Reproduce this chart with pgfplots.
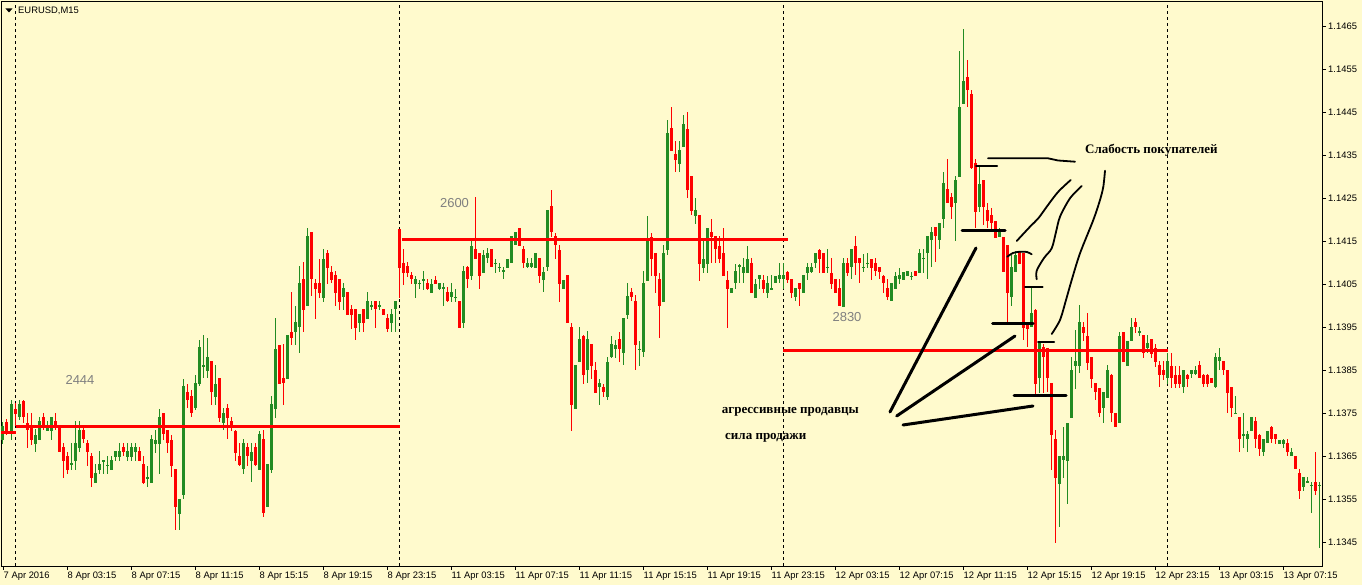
\documentclass[border=0pt]{standalone}
\usepackage{pgfplots}
\pgfplotsset{compat=1.18}
\usepackage{pgfplotstable}
\usepackage{fontspec}
\setmainfont{Liberation Sans}
\newfontfamily\annot{Liberation Serif}
\definecolor{bg}{RGB}{255,250,205}
\definecolor{bull}{RGB}{34,139,34}
\definecolor{bear}{RGB}{255,0,0}
\definecolor{note}{RGB}{128,128,128}

% EURUSD M15, one row per bar: index, open, high, low, close
\pgfplotstableread{
i o h l c
0 1.13688 1.13732 1.13681 1.13720
1 1.13729 1.13737 1.13699 1.13704
2 1.13706 1.13781 1.13688 1.13772
3 1.13762 1.13774 1.13722 1.13749
4 1.13742 1.13781 1.13734 1.13772
5 1.13781 1.13781 1.13729 1.13742
6 1.13729 1.13751 1.13669 1.13711
7 1.13722 1.13751 1.13676 1.13688
8 1.13681 1.13713 1.13660 1.13702
9 1.13688 1.13742 1.13688 1.13732
10 1.13742 1.13751 1.13711 1.13718
11 1.13709 1.13734 1.13709 1.13718
12 1.13709 1.13742 1.13688 1.13742
13 1.13732 1.13751 1.13711 1.13718
14 1.13718 1.13718 1.13660 1.13660
15 1.13672 1.13681 1.13599 1.13639
16 1.13651 1.13660 1.13609 1.13618
17 1.13632 1.13681 1.13618 1.13634
18 1.13639 1.13732 1.13618 1.13681
19 1.13669 1.13732 1.13660 1.13711
20 1.13711 1.13718 1.13681 1.13690
21 1.13681 1.13690 1.13629 1.13660
22 1.13651 1.13660 1.13579 1.13599
23 1.13588 1.13632 1.13588 1.13611
24 1.13618 1.13662 1.13609 1.13632
25 1.13639 1.13643 1.13609 1.13641
26 1.13629 1.13651 1.13609 1.13632
27 1.13618 1.13651 1.13618 1.13641
28 1.13649 1.13662 1.13639 1.13662
29 1.13649 1.13681 1.13639 1.13662
30 1.13672 1.13681 1.13651 1.13660
31 1.13649 1.13681 1.13639 1.13662
32 1.13649 1.13681 1.13639 1.13672
33 1.13660 1.13681 1.13639 1.13672
34 1.13662 1.13672 1.13639 1.13639
35 1.13632 1.13651 1.13588 1.13588
36 1.13599 1.13629 1.13579 1.13602
37 1.13588 1.13699 1.13588 1.13690
38 1.13681 1.13711 1.13658 1.13690
39 1.13681 1.13762 1.13609 1.13742
40 1.13751 1.13751 1.13688 1.13702
41 1.13711 1.13711 1.13660 1.13681
42 1.13690 1.13699 1.13602 1.13629
43 1.13620 1.13620 1.13479 1.13532
44 1.13518 1.13551 1.13479 1.13551
45 1.13560 1.13832 1.13551 1.13813
46 1.13799 1.13818 1.13762 1.13781
47 1.13790 1.13804 1.13742 1.13751
48 1.13762 1.13839 1.13758 1.13820
49 1.13820 1.13920 1.13813 1.13904
50 1.13860 1.13932 1.13832 1.13862
51 1.13849 1.13925 1.13832 1.13881
52 1.13872 1.13872 1.13769 1.13799
53 1.13788 1.13862 1.13769 1.13820
54 1.13832 1.13832 1.13729 1.13739
55 1.13729 1.13762 1.13711 1.13751
56 1.13762 1.13772 1.13690 1.13739
57 1.13732 1.13742 1.13711 1.13720
58 1.13711 1.13711 1.13639 1.13660
59 1.13651 1.13681 1.13629 1.13629
60 1.13620 1.13692 1.13611 1.13681
61 1.13672 1.13681 1.13629 1.13651
62 1.13639 1.13681 1.13590 1.13660
63 1.13672 1.13681 1.13629 1.13629
64 1.13620 1.13711 1.13620 1.13702
65 1.13690 1.13711 1.13509 1.13518
66 1.13532 1.13632 1.13532 1.13632
67 1.13620 1.13790 1.13611 1.13772
68 1.13762 1.13972 1.13739 1.13902
69 1.13911 1.13911 1.13820 1.13820
70 1.13832 1.13911 1.13769 1.13820
71 1.13830 1.13932 1.13830 1.13932
72 1.13941 1.14032 1.13909 1.13927
73 1.13939 1.14002 1.13909 1.13962
74 1.13951 1.14092 1.13890 1.14053
75 1.14062 1.14101 1.13939 1.13992
76 1.13999 1.14181 1.13999 1.14162
77 1.14171 1.14171 1.14022 1.14062
78 1.14053 1.14062 1.13969 1.14039
79 1.14053 1.14111 1.14020 1.14030
80 1.14020 1.14132 1.14009 1.14111
81 1.14123 1.14132 1.14053 1.14090
82 1.14081 1.14092 1.14053 1.14062
83 1.14071 1.14081 1.13999 1.14030
84 1.14062 1.14062 1.13990 1.14009
85 1.14020 1.14053 1.13990 1.14041
86 1.14032 1.14032 1.13978 1.13978
87 1.13992 1.14002 1.13948 1.13978
88 1.13992 1.13992 1.13920 1.13948
89 1.13960 1.13981 1.13939 1.13981
90 1.13992 1.13992 1.13939 1.13960
91 1.13969 1.14032 1.13969 1.14011
92 1.13999 1.14011 1.13990 1.14002
93 1.14011 1.14011 1.13948 1.13992
94 1.13999 1.14011 1.13990 1.14002
95 1.13992 1.13992 1.13978 1.13978
96 1.13972 1.13981 1.13939 1.13948
97 1.13960 1.13992 1.13939 1.13981
98 1.13992 1.14011 1.13939 1.14011
99 1.14181 1.14181 1.14020 1.14090
100 1.14101 1.14132 1.14048 1.14078
101 1.14094 1.14101 1.14067 1.14078
102 1.14071 1.14078 1.14051 1.14062
103 1.14051 1.14071 1.14020 1.14062
104 1.14051 1.14062 1.14041 1.14053
105 1.14057 1.14081 1.14037 1.14062
106 1.14053 1.14062 1.14037 1.14041
107 1.14032 1.14062 1.14030 1.14053
108 1.14062 1.14071 1.14053 1.14053
109 1.14041 1.14053 1.14037 1.14053
110 1.14041 1.14053 1.13999 1.14044
111 1.14032 1.14044 1.14009 1.14011
112 1.14020 1.14053 1.14009 1.14032
113 1.14020 1.14041 1.14009 1.14022
114 1.14011 1.14011 1.13948 1.13948
115 1.13960 1.14092 1.13948 1.14081
116 1.14092 1.14092 1.14041 1.14062
117 1.14071 1.14151 1.14062 1.14141
118 1.14132 1.14253 1.14109 1.14109
119 1.14123 1.14123 1.14041 1.14069
120 1.14078 1.14130 1.14078 1.14120
121 1.14111 1.14134 1.14099 1.14123
122 1.14132 1.14132 1.14090 1.14090
123 1.14099 1.14111 1.14078 1.14101
124 1.14090 1.14099 1.14078 1.14092
125 1.14081 1.14092 1.14062 1.14083
126 1.14090 1.14111 1.14090 1.14111
127 1.14099 1.14162 1.14099 1.14162
128 1.14141 1.14171 1.14141 1.14171
129 1.14181 1.14181 1.14141 1.14141
130 1.14132 1.14141 1.14090 1.14101
131 1.14090 1.14113 1.14090 1.14101
132 1.14090 1.14113 1.14090 1.14101
133 1.14090 1.14123 1.14090 1.14123
134 1.14111 1.14111 1.14053 1.14069
135 1.14062 1.14090 1.14032 1.14081
136 1.14090 1.14223 1.14081 1.14223
137 1.14232 1.14271 1.14162 1.14171
138 1.14162 1.14171 1.14109 1.14141
139 1.14132 1.14141 1.14009 1.14053
140 1.14041 1.14062 1.14041 1.14062
141 1.14071 1.14071 1.13960 1.13960
142 1.13951 1.13962 1.13711 1.13769
143 1.13760 1.13862 1.13760 1.13862
144 1.13869 1.13951 1.13869 1.13923
145 1.13932 1.13932 1.13820 1.13841
146 1.13851 1.13941 1.13820 1.13923
147 1.13911 1.13911 1.13830 1.13860
148 1.13851 1.13869 1.13799 1.13799
149 1.13811 1.13830 1.13769 1.13820
150 1.13811 1.13820 1.13788 1.13799
151 1.13788 1.13881 1.13781 1.13869
152 1.13881 1.13932 1.13881 1.13911
153 1.13902 1.13923 1.13881 1.13911
154 1.13923 1.13941 1.13869 1.13902
155 1.13890 1.13972 1.13862 1.13972
156 1.13978 1.14053 1.13969 1.14022
157 1.14032 1.14041 1.14011 1.14020
158 1.14011 1.14025 1.13851 1.13909
159 1.13899 1.13918 1.13860 1.13902
160 1.13892 1.14081 1.13881 1.14053
161 1.14060 1.14211 1.14060 1.14153
162 1.14162 1.14171 1.14069 1.14109
163 1.14123 1.14123 1.14030 1.14069
164 1.14062 1.14078 1.13927 1.13999
165 1.14009 1.14141 1.14009 1.14123
166 1.14130 1.14432 1.14120 1.14402
167 1.14413 1.14462 1.14360 1.14360
168 1.14353 1.14383 1.14311 1.14339
169 1.14330 1.14383 1.14311 1.14362
170 1.14369 1.14444 1.14369 1.14423
171 1.14413 1.14451 1.14251 1.14269
172 1.14302 1.14302 1.14211 1.14220
173 1.14209 1.14253 1.14192 1.14223
174 1.14211 1.14211 1.14060 1.14099
175 1.14090 1.14153 1.14078 1.14111
176 1.14099 1.14181 1.14078 1.14181
177 1.14171 1.14202 1.14099 1.14160
178 1.14162 1.14162 1.14099 1.14132
179 1.14141 1.14162 1.14099 1.14109
180 1.14123 1.14181 1.14069 1.14069
181 1.14062 1.14081 1.13948 1.14041
182 1.14030 1.14041 1.14030 1.14041
183 1.14053 1.14099 1.14041 1.14081
184 1.14092 1.14099 1.14053 1.14094
185 1.14078 1.14111 1.14053 1.14092
186 1.14078 1.14141 1.14078 1.14111
187 1.14101 1.14111 1.14030 1.14030
188 1.14020 1.14064 1.14020 1.14053
189 1.14062 1.14071 1.14041 1.14071
190 1.14062 1.14071 1.14030 1.14041
191 1.14030 1.14071 1.14020 1.14053
192 1.14039 1.14071 1.14039 1.14041
193 1.14053 1.14071 1.14053 1.14071
194 1.14062 1.14101 1.14053 1.14071
195 1.14062 1.14101 1.14041 1.14071
196 1.14081 1.14081 1.14053 1.14062
197 1.14062 1.14062 1.14020 1.14030
198 1.14020 1.14041 1.14011 1.14041
199 1.14053 1.14053 1.13999 1.14041
200 1.14030 1.14071 1.14030 1.14071
201 1.14078 1.14101 1.14060 1.14092
202 1.14078 1.14101 1.14078 1.14090
203 1.14101 1.14123 1.14090 1.14123
204 1.14132 1.14132 1.14078 1.14111
205 1.14123 1.14123 1.14078 1.14078
206 1.14090 1.14132 1.14078 1.14092
207 1.14078 1.14111 1.14041 1.14053
208 1.14062 1.14062 1.14030 1.14030
209 1.14041 1.14062 1.13999 1.13999
210 1.13999 1.14111 1.13999 1.14101
211 1.14101 1.14111 1.14071 1.14078
212 1.14090 1.14132 1.14062 1.14132
213 1.14141 1.14162 1.14071 1.14101
214 1.14111 1.14111 1.14053 1.14101
215 1.14090 1.14123 1.14081 1.14092
216 1.14099 1.14123 1.14090 1.14101
217 1.14111 1.14111 1.14062 1.14090
218 1.14101 1.14111 1.14071 1.14081
219 1.14090 1.14090 1.14062 1.14078
220 1.14071 1.14071 1.14030 1.14053
221 1.14041 1.14062 1.14013 1.14020
222 1.14013 1.14053 1.14013 1.14053
223 1.14041 1.14078 1.14041 1.14071
224 1.14062 1.14090 1.14053 1.14071
225 1.14062 1.14081 1.14062 1.14081
226 1.14071 1.14081 1.14071 1.14081
227 1.14069 1.14081 1.14062 1.14071
228 1.14081 1.14081 1.14071 1.14071
229 1.14078 1.14132 1.14078 1.14123
230 1.14109 1.14132 1.14078 1.14111
231 1.14123 1.14162 1.14062 1.14162
232 1.14153 1.14183 1.14090 1.14171
233 1.14183 1.14183 1.14101 1.14162
234 1.14153 1.14192 1.14132 1.14192
235 1.14202 1.14313 1.14181 1.14285
236 1.14271 1.14341 1.14239 1.14239
237 1.14253 1.14262 1.14202 1.14230
238 1.14239 1.14302 1.14151 1.14292
239 1.14299 1.14592 1.14299 1.14462
240 1.14471 1.14644 1.14471 1.14523
241 1.14532 1.14571 1.14462 1.14502
242 1.14492 1.14502 1.14320 1.14320
243 1.14332 1.14341 1.14181 1.14220
244 1.14230 1.14323 1.14220 1.14283
245 1.14292 1.14292 1.14188 1.14230
246 1.14223 1.14241 1.14181 1.14199
247 1.14211 1.14227 1.14176 1.14192
248 1.14199 1.14199 1.14160 1.14160
249 1.14160 1.14181 1.14160 1.14178
250 1.14160 1.14160 1.14078 1.14078
251 1.14141 1.14141 1.13960 1.14030
252 1.14020 1.14118 1.13999 1.14090
253 1.14078 1.14127 1.14078 1.14118
254 1.14125 1.14127 1.14097 1.14099
255 1.14123 1.14123 1.13920 1.13948
256 1.13962 1.13962 1.13904 1.13948
257 1.13951 1.14044 1.13951 1.13983
258 1.13992 1.13992 1.13792 1.13820
259 1.13832 1.13913 1.13799 1.13913
260 1.13904 1.13913 1.13799 1.13881
261 1.13902 1.13902 1.13799 1.13832
262 1.13820 1.13820 1.13618 1.13699
263 1.13690 1.13711 1.13448 1.13599
264 1.13588 1.13651 1.13486 1.13651
265 1.13641 1.13718 1.13599 1.13651
266 1.13639 1.13729 1.13541 1.13729
267 1.13739 1.13881 1.13739 1.13851
268 1.13860 1.13944 1.13808 1.13872
269 1.13860 1.14002 1.13844 1.13962
270 1.13951 1.13962 1.13920 1.13937
271 1.13932 1.13983 1.13851 1.13869
272 1.13881 1.13881 1.13808 1.13830
273 1.13820 1.13820 1.13781 1.13799
274 1.13808 1.13808 1.13742 1.13751
275 1.13762 1.13799 1.13729 1.13799
276 1.13788 1.13862 1.13788 1.13851
277 1.13841 1.13841 1.13729 1.13751
278 1.13751 1.13751 1.13718 1.13718
279 1.13729 1.13941 1.13729 1.13932
280 1.13941 1.13941 1.13869 1.13869
281 1.13860 1.13920 1.13860 1.13920
282 1.13920 1.13972 1.13920 1.13951
283 1.13962 1.13972 1.13939 1.13951
284 1.13939 1.13951 1.13930 1.13941
285 1.13932 1.13932 1.13881 1.13890
286 1.13902 1.13932 1.13890 1.13913
287 1.13923 1.13923 1.13881 1.13890
288 1.13902 1.13913 1.13860 1.13869
289 1.13862 1.13872 1.13811 1.13839
290 1.13851 1.13872 1.13827 1.13839
291 1.13832 1.13892 1.13820 1.13872
292 1.13860 1.13892 1.13811 1.13832
293 1.13841 1.13862 1.13811 1.13820
294 1.13841 1.13862 1.13811 1.13820
295 1.13811 1.13851 1.13799 1.13851
296 1.13841 1.13841 1.13811 1.13832
297 1.13841 1.13851 1.13832 1.13851
298 1.13841 1.13862 1.13841 1.13851
299 1.13862 1.13872 1.13832 1.13832
300 1.13841 1.13841 1.13811 1.13820
301 1.13841 1.13841 1.13811 1.13820
302 1.13832 1.13832 1.13820 1.13820
303 1.13811 1.13892 1.13811 1.13881
304 1.13872 1.13902 1.13851 1.13881
305 1.13872 1.13872 1.13839 1.13851
306 1.13851 1.13851 1.13751 1.13799
307 1.13811 1.13811 1.13742 1.13762
308 1.13749 1.13790 1.13749 1.13751
309 1.13742 1.13742 1.13660 1.13690
310 1.13699 1.13751 1.13669 1.13702
311 1.13690 1.13709 1.13660 1.13702
312 1.13709 1.13742 1.13709 1.13742
313 1.13732 1.13742 1.13669 1.13690
314 1.13702 1.13702 1.13651 1.13669
315 1.13660 1.13690 1.13651 1.13690
316 1.13681 1.13709 1.13681 1.13709
317 1.13720 1.13720 1.13681 1.13690
318 1.13702 1.13702 1.13681 1.13690
319 1.13681 1.13690 1.13681 1.13690
320 1.13681 1.13690 1.13669 1.13690
321 1.13681 1.13690 1.13651 1.13660
322 1.13651 1.13669 1.13651 1.13660
323 1.13651 1.13651 1.13620 1.13620
324 1.13611 1.13620 1.13551 1.13569
325 1.13579 1.13602 1.13569 1.13602
326 1.13590 1.13602 1.13588 1.13592
327 1.13581 1.13590 1.13520 1.13583
328 1.13590 1.13660 1.13560 1.13569
329 1.13581 1.13590 1.13437 1.13583
}\candles

\begin{document}
\begin{tikzpicture}[x=1pt,y=1pt]
\fill[bg] (-1,-19) rectangle (1361,566);
\begin{axis}[
  at={(0,0)}, anchor=south west, scale only axis,
  width=1321pt, height=565pt,
  xmin=-0.5, xmax=329.75, ymin=1.133947, ymax=1.147087,
  axis line style={black, line width=0.8pt},
  tick align=outside, major tick length=4pt,
  tick style={black, line width=0.8pt},
  xtick pos=left, ytick pos=right, yticklabel pos=right,
  xtick={0,16,...,320},
  xticklabels={7 Apr 2016, 8 Apr 03:15, 8 Apr 07:15, 8 Apr 11:15, 8 Apr 15:15, 8 Apr 19:15, 8 Apr 23:15, 11 Apr 03:15, 11 Apr 07:15, 11 Apr 11:15, 11 Apr 15:15, 11 Apr 19:15, 11 Apr 23:15, 12 Apr 03:15, 12 Apr 07:15, 12 Apr 11:15, 12 Apr 15:15, 12 Apr 19:15, 12 Apr 23:15, 13 Apr 03:15, 13 Apr 07:15},
  ytick={1.1345,1.1355,1.1365,1.1375,1.1385,1.1395,1.1405,1.1415,1.1425,1.1435,1.1445,1.1455,1.1465},
  yticklabels={1.1345,1.1355,1.1365,1.1375,1.1385,1.1395,1.1405,1.1415,1.1425,1.1435,1.1445,1.1455,1.1465},
  tick label style={font=\fontsize{9.4}{10}\selectfont},
  xticklabel style={anchor=north west, inner sep=0pt, xshift=0.5pt, yshift=-2pt},
  yticklabel style={anchor=west, inner sep=0pt, xshift=2pt},
  extra x ticks={3,99,195,291}, extra x tick labels={},
  extra x tick style={grid=major, major tick length=0pt,
    major grid style={black, line width=0.8pt, dash pattern=on 3pt off 3pt}},
]
% wicks
\addplot[draw=none, mark=none, forget plot, error bars/.cd, y dir=both, y explicit, error mark=none,
  error bar style={draw=bull, line width=1pt}]
  table[x=i, y expr={\thisrow{c}>=\thisrow{o} ? (\thisrow{h}+\thisrow{l})/2 : nan},
        y error expr={(\thisrow{h}-\thisrow{l})/2}] {\candles};
\addplot[draw=none, mark=none, forget plot, error bars/.cd, y dir=both, y explicit, error mark=none,
  error bar style={draw=bear, line width=1pt}]
  table[x=i, y expr={\thisrow{c}<\thisrow{o} ? (\thisrow{h}+\thisrow{l})/2 : nan},
        y error expr={(\thisrow{h}-\thisrow{l})/2}] {\candles};
% bodies
\addplot[draw=none, mark=none, forget plot, error bars/.cd, y dir=both, y explicit, error mark=none,
  error bar style={draw=bull, line width=3pt}]
  table[x=i, y expr={\thisrow{c}>=\thisrow{o} ? (\thisrow{o}+\thisrow{c})/2 : nan},
        y error expr={max(abs(\thisrow{c}-\thisrow{o})/2,0.000012)}] {\candles};
\addplot[draw=none, mark=none, forget plot, error bars/.cd, y dir=both, y explicit, error mark=none,
  error bar style={draw=bear, line width=3pt}]
  table[x=i, y expr={\thisrow{c}<\thisrow{o} ? (\thisrow{o}+\thisrow{c})/2 : nan},
        y error expr={max(abs(\thisrow{c}-\thisrow{o})/2,0.000012)}] {\candles};
% daily levels drawn on the chart
\draw[bear, line width=3pt] (axis cs:-0.5,1.13706) -- (axis cs:3.25,1.13706);
\draw[bear, line width=3pt] (axis cs:3.25,1.13718) -- (axis cs:99.25,1.13718);
\draw[bear, line width=3pt] (axis cs:99.75,1.14153) -- (axis cs:196.25,1.14153);
\draw[bear, line width=3pt] (axis cs:195,1.13895) -- (axis cs:291.25,1.13895);
\end{axis}

% hand-drawn notes, in screen pixels (y down)
\begin{scope}[shift={(-1,566)}, yscale=-1]
\fill[black] (5.5,8.5) -- (12.5,8.5) -- (9,12.5) -- cycle;
\node[anchor=west, inner sep=0pt, font=\fontsize{9.4}{10}\selectfont] at (18,11) {EURUSD,M15};
\node[note, font=\fontsize{13}{14}\selectfont] at (80,380) {2444};
\node[note, font=\fontsize{13}{14}\selectfont] at (454.5,203) {2600};
\node[note, font=\fontsize{13}{14}\selectfont] at (847,317.5) {2830};
\node[anchor=base west, inner sep=0pt, font=\annot\bfseries\fontsize{13}{14}\selectfont] at (1085,153.5) {Слабость покупателей};
\node[anchor=base west, inner sep=0pt, font=\annot\bfseries\fontsize{13}{14}\selectfont] at (721.7,414) {агрессивные продавцы};
\node[anchor=base west, inner sep=0pt, font=\annot\bfseries\fontsize{13}{14}\selectfont] at (725,440) {сила продажи};
\begin{scope}[line cap=round, line join=round]
\draw[line width=3pt] (890,412) -- (976,248);
\draw[line width=3pt] (896.7,416) -- (1015,336);
\draw[line width=3pt] (903,425) -- (1033,406);
\draw[line width=3pt] (962,230.7) -- (1005,230.7);
\draw[line width=3pt] (992.7,324) -- (1033,324);
\draw[line width=3pt] (1014,396) -- (1066,396);
\draw[line width=2pt] (976,165.7) -- (997,165.7);
\draw[line width=2pt] (1025,286.7) -- (1042.7,286.7);
\draw[line width=2pt] (1038,342.3) -- (1054,342.3);
\draw[line width=1.8pt] (988,158.3) -- (1048,158.3) -- (1058,160.5) -- (1075,161.7);
\draw[line width=1.8pt] plot[smooth] coordinates {(1016.7,241) (1030,226.7) (1038.3,218.3) (1048,205) (1058.3,191.7) (1070.7,180)};
\draw[line width=1.8pt] plot[smooth] coordinates {(1036.7,279.3) (1036.7,270.7) (1044,258) (1051.7,248.3) (1056,232) (1060,216.7) (1070,198.3) (1081.7,186)};
\draw[line width=1.8pt] plot[smooth] coordinates {(1051.7,334) (1060,320) (1066,300) (1071.7,280) (1080,253.3) (1093.3,220) (1100,200) (1103.3,186.7) (1105,170.7)};
\draw[line width=1.8pt] plot[smooth] coordinates {(1007.3,256.7) (1013,253) (1020,251.7) (1027,252) (1031.7,254.3)};
\end{scope}
\end{scope}
\pgfresetboundingbox
\path[use as bounding box] (-1,-19) rectangle (1361,566);
\end{tikzpicture}
\end{document}
